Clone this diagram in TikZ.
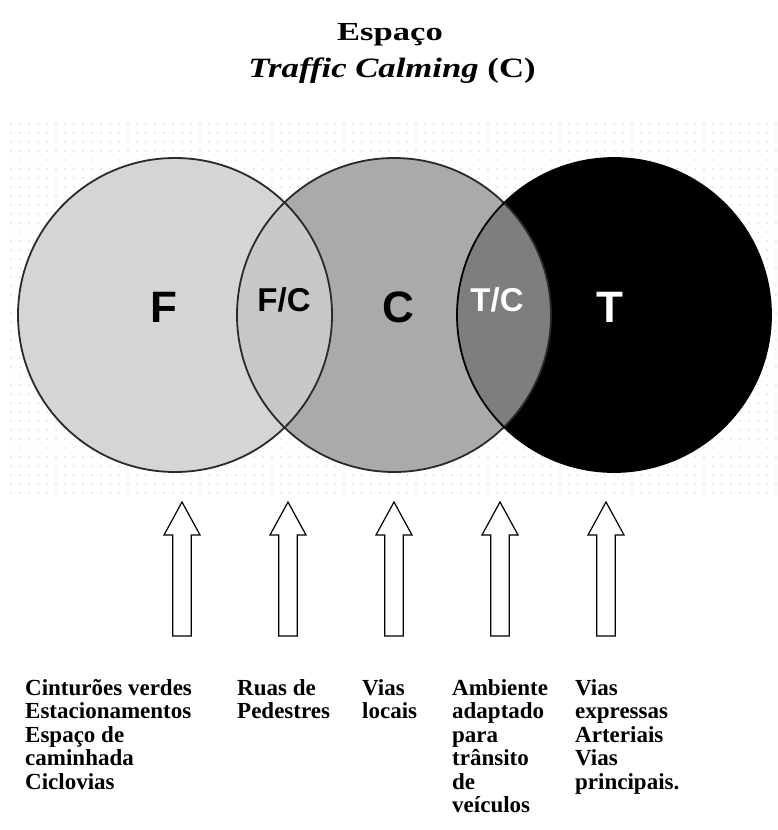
\documentclass[tikz,border=0pt]{standalone}
\usepackage{fontspec}
\usepackage{graphicx}
\setmainfont{Liberation Serif}
\newfontfamily\labelfont{Liberation Sans}

\definecolor{fzone}{HTML}{D5D5D5}
\definecolor{czone}{HTML}{AAAAAA}
\definecolor{fczone}{HTML}{C8C8C8}
\definecolor{tczone}{HTML}{7E7E7E}
\definecolor{ring}{HTML}{2A2A2A}
\definecolor{dotgray}{HTML}{D8D8D8}

\tikzset{
  zonering/.style={draw=ring, line width=1.8pt},
  biglabel/.style={font=\labelfont\bfseries\fontsize{44}{44}\selectfont, inner sep=0pt},
  smalllabel/.style={font=\labelfont\bfseries\fontsize{33}{33}\selectfont, inner sep=0pt},
  % multi-line captions are anchored at the baseline of their last line
  caption/.style={font=\bfseries\fontsize{23}{23.5}\selectfont, align=left,
    anchor=base west, inner sep=0pt},
  pics/blockarrow/.style={code={
    \draw[line width=1.2pt, fill=white, line join=miter]
      (0,0) -- (18,33) -- (9.3,33) -- (9.3,134) -- (-9.3,134)
      -- (-9.3,33) -- (-18,33) -- cycle;
  }}
}

\begin{document}
\begin{tikzpicture}[x=1pt, y=-1pt]
\useasboundingbox (0,0) rectangle (777,830);

% title
\node[font=\bfseries\fontsize{26}{28}\selectfont, anchor=base, inner sep=0pt]
  (title) at (390,40) {\scalebox{1.33}[1]{Espaço}};
\node[font=\bfseries\fontsize{28}{30}\selectfont, anchor=base, inner sep=0pt]
  (subtitle) at (392,77) {\scalebox{1.24}[1]{\itshape Traffic Calming \upshape(C)}};

% dotted backdrop
\fill[white] (7,120) rectangle (777,500);
\foreach \i in {0,...,85}
  \foreach \j in {0,...,41}
    \fill[dotgray] (11+9*\i,124+9*\j) circle (0.9);

% the three zones
\coordinate (cF) at (175,315);
\coordinate (cC) at (394,315);
\coordinate (cT) at (614,315);

\fill[fzone] (cF) circle (157);
\fill[czone] (cC) circle (157);
\fill[black] (cT) circle (157);
\begin{scope}
  \clip (cF) circle (157);
  \fill[fczone] (cC) circle (157);
\end{scope}
\begin{scope}
  \clip (cT) circle (157);
  \fill[tczone] (cC) circle (157);
\end{scope}
\draw[zonering] (cF) circle (157);
\draw[zonering] (cC) circle (157);
\draw[draw=black, line width=1.8pt] (cT) circle (157);

% zone labels
\node[biglabel] (lF) at (164,307) {F};
\node[smalllabel] (lFC) at (284,300) {F/C};
\node[biglabel] (lC) at (398,307) {C};
\node[smalllabel, text=white] (lTC) at (497,300) {T/C};
\node[biglabel, text=white] (lT) at (610,307) {T};

% pointers
\foreach \x [count=\k] in {182,288,394,500,606}
  \pic (arrow\k) at (\x,502) {blockarrow};

% descriptions
\node[caption] (dF) at (25,789)
  {Cinturões verdes\\Estacionamentos\\Espaço de\\caminhada\\Ciclovias};
\node[caption] (dFC) at (237,718.5) {Ruas de\\Pedestres};
\node[caption] (dC) at (362,718.5) {Vias\\locais};
\node[caption] (dTC) at (452,812.5)
  {Ambiente\\adaptado\\para\\trânsito\\de\\veículos};
\node[caption] (dT) at (575,789)
  {Vias\\expressas\\Arteriais\\Vias\\principais.};
\end{tikzpicture}
\end{document}
